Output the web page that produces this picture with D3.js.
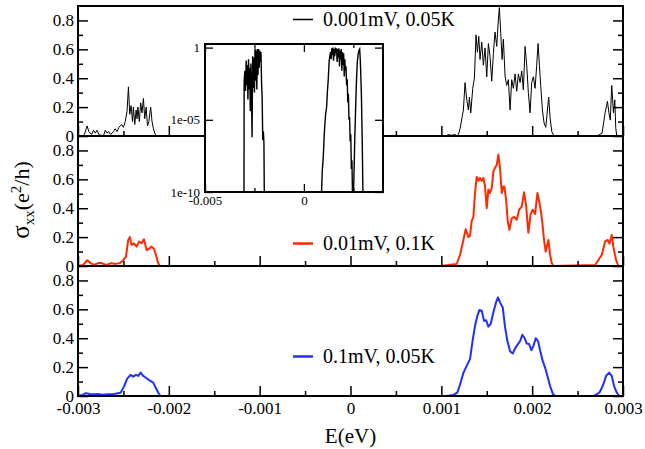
<!DOCTYPE html>
<html>
<head>
<meta charset="utf-8">
<script src="https://cdn.jsdelivr.net/npm/d3@7"></script>
<style>
body { margin: 0; background: #fff; }
svg { display: block; }
</style>
</head>
<body>
<svg id="chart" width="645" height="449"></svg>
<script>
// energies below are in meV, converted to eV when drawn
const eUnit = 1e-3;
const serif = "'Liberation Serif', 'Times New Roman', serif";

const seriesLabels = ["0.001mV, 0.05K", "0.01mV, 0.1K", "0.1mV, 0.05K"];
const seriesColors = ["#000000", "#ff2a00", "#1f2fff"];

// sigma_xx for 0.001mV, 0.05K
const sigmaA = [
  [-3.0,0],[-2.95,0],[-2.93,0.01],[-2.9,0.07],[-2.88,0.03],[-2.85,0.01],[-2.83,0.04],[-2.81,0.02],[-2.79,0.04],[-2.77,0.01],
  [-2.72,0],[-2.7,0.04],[-2.68,0.02],[-2.66,0.03],[-2.64,0.01],[-2.61,0.03],[-2.59,0.05],[-2.57,0.03],[-2.55,0.06],[-2.52,0.08],
  [-2.5,0.06],[-2.48,0.1],[-2.46,0.17],[-2.445,0.34],[-2.43,0.15],[-2.415,0.21],[-2.4,0.1],[-2.39,0.2],[-2.375,0.08],[-2.36,0.18],
  [-2.35,0.12],[-2.34,0.2],[-2.325,0.1],[-2.31,0.23],[-2.295,0.16],[-2.28,0.26],[-2.265,0.12],[-2.25,0.2],[-2.235,0.07],[-2.22,0.1],
  [-2.2,0.2],[-2.185,0.1],[-2.17,0.05],[-2.155,0.02],[-2.14,0],
  [1.05,0],[1.077,0.01],[1.11,0.005],[1.151,0.01],[1.17,0],[1.188,0.01],[1.206,0.05],[1.243,0.18],[1.261,0.37],[1.28,0.25],
  [1.298,0.18],[1.309,0.27],[1.324,0.16],[1.346,0.33],[1.364,0.4],[1.382,0.7],[1.397,0.58],[1.412,0.69],[1.426,0.53],[1.445,0.65],
  [1.463,0.49],[1.481,0.61],[1.5,0.41],[1.518,0.64],[1.536,0.55],[1.555,0.38],[1.573,0.57],[1.591,0.72],[1.61,0.62],[1.628,0.81],
  [1.639,0.89],[1.654,0.71],[1.669,0.53],[1.683,0.67],[1.702,0.41],[1.72,0.35],[1.738,0.39],[1.757,0.18],[1.775,0.39],[1.793,0.33],
  [1.812,0.43],[1.83,0.31],[1.848,0.43],[1.867,0.37],[1.885,0.45],[1.903,0.32],[1.922,0.62],[1.94,0.49],[1.958,0.3],[1.977,0.16],
  [1.995,0.37],[2.013,0.41],[2.032,0.33],[2.05,0.49],[2.065,0.64],[2.08,0.49],[2.094,0.35],[2.113,0.18],[2.131,0.09],[2.15,0.06],
  [2.168,0.18],[2.182,0.27],[2.197,0.13],[2.216,0.03],[2.241,0],
  [2.711,0],[2.74,0.01],[2.77,0.02],[2.803,0.16],[2.829,0.24],[2.845,0.16],[2.86,0.11],[2.876,0.35],[2.895,0.16],[2.91,0.25],
  [2.92,0.06],[2.931,0],[3.0,0]
];

// sigma_xx for 0.01mV, 0.1K
const sigmaB = [
  [-3.0,0],[-2.943,0.007],[-2.899,0.04],[-2.861,0.02],[-2.825,0.007],[-2.777,0.02],[-2.74,0.02],[-2.693,0.007],[-2.63,0.02],[-2.594,0.014],
  [-2.539,0.02],[-2.502,0.04],[-2.472,0.065],[-2.447,0.18],[-2.428,0.2],[-2.41,0.146],[-2.384,0.157],[-2.355,0.134],[-2.326,0.17],[-2.3,0.157],
  [-2.274,0.185],[-2.245,0.11],[-2.216,0.12],[-2.189,0.134],[-2.164,0.12],[-2.142,0.076],[-2.117,0.02],[-2.098,0],
  [1.0,0],[1.077,0.007],[1.169,0.014],[1.206,0.076],[1.243,0.18],[1.268,0.255],[1.298,0.2],[1.316,0.21],[1.334,0.31],[1.353,0.34],
  [1.371,0.505],[1.389,0.616],[1.408,0.59],[1.426,0.61],[1.445,0.59],[1.463,0.61],[1.481,0.55],[1.5,0.4],[1.518,0.53],[1.536,0.505],
  [1.555,0.54],[1.573,0.655],[1.591,0.68],[1.61,0.7],[1.628,0.771],[1.646,0.68],[1.665,0.505],[1.683,0.55],[1.694,0.55],[1.713,0.46],
  [1.731,0.31],[1.749,0.25],[1.775,0.33],[1.801,0.34],[1.83,0.32],[1.856,0.39],[1.885,0.41],[1.911,0.51],[1.933,0.42],[1.958,0.23],
  [1.984,0.36],[2.006,0.39],[2.032,0.36],[2.058,0.505],[2.08,0.44],[2.105,0.34],[2.131,0.18],[2.149,0.1],[2.179,0.18],[2.197,0.08],
  [2.215,0.02],[2.234,0],
  [2.693,0.007],[2.766,0.076],[2.803,0.17],[2.832,0.18],[2.851,0.155],[2.876,0.215],[2.895,0.13],[2.924,0.04],[2.949,0],[3.0,0]
];

// sigma_xx for 0.1mV, 0.05K
const sigmaC = [
  [-3.0,0],[-2.949,0.007],[-2.913,0.02],[-2.87,0.014],[-2.82,0.012],[-2.78,0.014],[-2.73,0.009],[-2.68,0.012],[-2.6,0.014],[-2.531,0.023],
  [-2.494,0.065],[-2.458,0.12],[-2.421,0.146],[-2.392,0.134],[-2.362,0.146],[-2.337,0.139],[-2.311,0.162],[-2.282,0.139],[-2.245,0.123],[-2.208,0.106],
  [-2.172,0.093],[-2.142,0.053],[-2.113,0.019],[-2.091,0],
  [1.059,0],[1.132,0.007],[1.176,0.023],[1.206,0.08],[1.243,0.16],[1.28,0.21],[1.316,0.255],[1.346,0.39],[1.371,0.486],[1.397,0.556],
  [1.419,0.595],[1.445,0.59],[1.47,0.52],[1.492,0.525],[1.518,0.48],[1.544,0.5],[1.573,0.58],[1.602,0.648],[1.624,0.683],[1.646,0.648],
  [1.676,0.613],[1.702,0.475],[1.727,0.38],[1.757,0.31],[1.786,0.294],[1.812,0.33],[1.837,0.354],[1.867,0.38],[1.892,0.424],[1.918,0.4],
  [1.94,0.363],[1.966,0.36],[1.991,0.317],[2.014,0.347],[2.039,0.4],[2.065,0.38],[2.087,0.317],[2.116,0.243],[2.142,0.197],[2.168,0.139],
  [2.197,0.069],[2.227,0.016],[2.252,0],
  [2.674,0],[2.74,0.023],[2.777,0.069],[2.814,0.139],[2.847,0.162],[2.876,0.139],[2.902,0.069],[2.931,0.023],[2.96,0],[3.0,0]
];

// inset: log10(sigma_xx) for 0.001mV, 0.05K
const insetLog10 = [
  [-3.03,-10.5],[-3.02,-2.3],[-2.98,-1.6],[-2.95,-3.0],[-2.92,-0.9],[-2.89,-2.6],[-2.86,-1.2],[-2.83,-3.6],[-2.8,-0.8],[-2.77,-2.9],
  [-2.74,-1.4],[-2.71,-4.4],[-2.68,-1.1],[-2.65,-3.2],[-2.62,-6.2],[-2.59,-0.6],[-2.56,-2.8],[-2.53,-0.7],[-2.5,-3.1],[-2.47,-0.05],
  [-2.44,-2.3],[-2.41,-0.2],[-2.38,-2.9],[-2.35,-0.1],[-2.32,-1.9],[-2.29,-0.1],[-2.26,-1.4],[-2.23,-0.2],[-2.2,-1.0],[-2.17,-0.3],
  [-2.14,-2.4],[-2.11,-3.5],[-2.08,-6.4],[-2.05,-5.8],[-2.02,-6.6],[-2.0,-10.5],
  [0.88,-10.5],[0.93,-8.5],[0.98,-7.6],[1.03,-6.0],[1.06,-5.3],[1.1,-4.6],[1.15,-4.1],[1.19,-3.0],[1.23,-2.25],[1.26,-1.4],
  [1.28,-0.9],[1.31,-0.6],[1.35,-0.3],[1.38,-0.8],[1.41,-0.05],[1.44,-0.5],[1.47,0.0],[1.5,-0.9],[1.53,-0.1],[1.56,-0.6],
  [1.59,0.0],[1.62,-0.4],[1.65,-0.05],[1.68,-1.0],[1.71,-0.1],[1.74,-0.7],[1.77,-0.05],[1.8,-1.3],[1.83,-0.2],[1.86,-0.8],
  [1.89,-0.1],[1.92,-1.6],[1.95,-0.3],[1.98,-1.2],[2.01,-0.4],[2.04,-2.0],[2.07,-0.8],[2.1,-1.6],[2.13,-1.3],[2.16,-2.6],
  [2.19,-2.2],[2.22,-3.8],[2.25,-3.2],[2.28,-5.0],[2.31,-4.8],[2.34,-6.5],[2.37,-6.0],[2.4,-8.4],[2.43,-7.8],[2.46,-10.5],
  [2.5,-10.5],[2.53,-9.0],[2.57,-6.5],[2.62,-4.0],[2.66,-2.25],[2.7,-1.0],[2.74,-0.5],[2.78,-0.2],[2.82,-0.1],[2.85,-0.8],
  [2.88,-2.0],[2.91,-3.4],[2.95,-6.5],[2.99,-10.5]
];

const xTicks = [-0.003, -0.002, -0.001, 0, 0.001, 0.002, 0.003];
const xTickLabels = ["-0.003", "-0.002", "-0.001", "0", "0.001", "0.002", "0.003"];
const xMinorTicks = [-0.0025, -0.0015, -0.0005, 0.0005, 0.0015, 0.0025];
const yTicks = [0, 0.2, 0.4, 0.6, 0.8];
const yTickLabels = ["0", "0.2", "0.4", "0.6", "0.8"];
const yMinorTicks = [0.1, 0.3, 0.5, 0.7];

const insetXTicks = [-0.005, 0];
const insetXTickLabels = ["-0.005", "0"];
const insetXMinorTicks = [-0.0025, 0.0025];
const insetYTicks = [1e-10, 1e-5, 1];
const insetYTickLabels = ["1e-10", "1e-05", "1"];

// layout
const plotLeft = 78, plotRight = 623, plotTop = 6, panelH = 130;
const legendY = [20, 114, 97];   // legend baseline offset inside each panel
const lineWidths = [1, 2, 2];

const svg = d3.select("#chart");
svg.append("rect").attr("width", 645).attr("height", 449).attr("fill", "#fff");

const x = d3.scaleLinear().domain([-0.003, 0.003]).range([plotLeft, plotRight]);

const panels = [sigmaA, sigmaB, sigmaC];

panels.forEach(function(data, i) {
  var y0 = plotTop + i * panelH;
  var y = d3.scaleLinear().domain([0, 0.9]).range([y0 + panelH, y0]);
  var g = svg.append("g").attr("class", "panel");

  var line = d3.line()
    .x(function(d) { return x(d[0] * eUnit); })
    .y(function(d) { return y(d[1]); });

  g.append("path")
    .datum(data)
    .attr("fill", "none")
    .attr("stroke", seriesColors[i])
    .attr("stroke-width", lineWidths[i])
    .attr("stroke-linejoin", "round")
    .attr("d", line);

  // ticks pointing inward
  var bottomAxis = d3.axisBottom(x).tickValues(xTicks).tickSize(-10).tickPadding(6)
    .tickFormat(function(d, k) { return i == 2 ? xTickLabels[k] : ""; });
  g.append("g").attr("transform", "translate(0," + (y0 + panelH) + ")").call(bottomAxis);
  g.append("g").attr("transform", "translate(0," + (y0 + panelH) + ")")
    .call(d3.axisBottom(x).tickValues(xMinorTicks).tickSize(-5).tickFormat(""));

  g.append("g").attr("transform", "translate(" + plotLeft + ",0)")
    .call(d3.axisLeft(y).tickValues(yTicks).tickSize(-10).tickPadding(4)
      .tickFormat(function(d, k) { return yTickLabels[k]; }));
  g.append("g").attr("transform", "translate(" + plotLeft + ",0)")
    .call(d3.axisLeft(y).tickValues(yMinorTicks).tickSize(-5).tickFormat(""));
  g.append("g").attr("transform", "translate(" + plotRight + ",0)")
    .call(d3.axisRight(y).tickValues(yTicks).tickSize(-10).tickFormat(""));
  g.append("g").attr("transform", "translate(" + plotRight + ",0)")
    .call(d3.axisRight(y).tickValues(yMinorTicks).tickSize(-5).tickFormat(""));

  g.selectAll(".domain").remove();
  g.selectAll(".tick line").attr("stroke", "#000").attr("stroke-width", 1.5);
  g.selectAll(".tick text").attr("fill", "#000")
    .style("font-family", serif).style("font-size", "17px");

  g.append("rect")
    .attr("x", plotLeft).attr("y", y0)
    .attr("width", plotRight - plotLeft).attr("height", panelH)
    .attr("fill", "none").attr("stroke", "#000").attr("stroke-width", 2);

  // legend
  var ly = y0 + legendY[i];
  g.append("line")
    .attr("x1", 293).attr("x2", 313)
    .attr("y1", ly - 6.5).attr("y2", ly - 6.5)
    .attr("stroke", seriesColors[i]).attr("stroke-width", lineWidths[i] + 0.5);
  g.append("text")
    .attr("x", 323).attr("y", ly)
    .style("font-family", serif).style("font-size", "20px")
    .text(seriesLabels[i]);
});

// axis titles
svg.append("text")
  .attr("x", 350.5).attr("y", 443)
  .attr("text-anchor", "middle")
  .style("font-family", serif).style("font-size", "21px")
  .text("E(eV)");

var ylab = svg.append("text")
  .attr("transform", "translate(29,200) rotate(-90)")
  .attr("text-anchor", "middle")
  .style("font-family", serif).style("font-size", "22px");
ylab.append("tspan").style("font-size", "25px").text("σ");
ylab.append("tspan").style("font-size", "15px").attr("dy", 5).text("xx");
ylab.append("tspan").attr("dy", -5).text("(e");
ylab.append("tspan").style("font-size", "15px").attr("dy", -8).text("2");
ylab.append("tspan").attr("dy", 8).text("/h)");

// inset
var ix = d3.scaleLinear().domain([-0.005, 0.004]).range([205, 383]);
var iy = d3.scaleLog().domain([1e-10, Math.pow(10, 0.25)]).range([192, 44]);
var inset = svg.append("g").attr("class", "inset");

svg.append("defs").append("clipPath").attr("id", "inset-clip")
  .append("rect").attr("x", 205).attr("y", 44).attr("width", 178).attr("height", 148);

inset.append("rect")
  .attr("x", 205).attr("y", 44).attr("width", 178).attr("height", 148)
  .attr("fill", "#fff");

var iline = d3.line()
  .x(function(d) { return ix(d[0] * eUnit); })
  .y(function(d) { return iy(Math.pow(10, d[1])); });

inset.append("path")
  .datum(insetLog10)
  .attr("clip-path", "url(#inset-clip)")
  .attr("fill", "none")
  .attr("stroke", "#000")
  .attr("stroke-width", 1.4)
  .attr("d", iline);

inset.append("g").attr("transform", "translate(0,192)")
  .call(d3.axisBottom(ix).tickValues(insetXTicks).tickSize(-8).tickPadding(4)
    .tickFormat(function(d, k) { return insetXTickLabels[k]; }));
inset.append("g").attr("transform", "translate(0,192)")
  .call(d3.axisBottom(ix).tickValues(insetXMinorTicks).tickSize(-4).tickFormat(""));
inset.append("g").attr("transform", "translate(0,44)")
  .call(d3.axisTop(ix).tickValues(insetXTicks).tickSize(-8).tickFormat(""));
inset.append("g").attr("transform", "translate(0,44)")
  .call(d3.axisTop(ix).tickValues(insetXMinorTicks).tickSize(-4).tickFormat(""));
inset.append("g").attr("transform", "translate(205,0)")
  .call(d3.axisLeft(iy).tickValues(insetYTicks).tickSize(-8).tickPadding(5)
    .tickFormat(function(d, k) { return insetYTickLabels[k]; }));
inset.append("g").attr("transform", "translate(383,0)")
  .call(d3.axisRight(iy).tickValues(insetYTicks).tickSize(-8).tickFormat(""));

inset.selectAll(".domain").remove();
inset.selectAll(".tick line").attr("stroke", "#000").attr("stroke-width", 1.3);
inset.selectAll(".tick text").attr("fill", "#000")
  .style("font-family", serif).style("font-size", "13px");

inset.append("rect")
  .attr("x", 205).attr("y", 44).attr("width", 178).attr("height", 148)
  .attr("fill", "none").attr("stroke", "#000").attr("stroke-width", 2);
</script>
</body>
</html>
